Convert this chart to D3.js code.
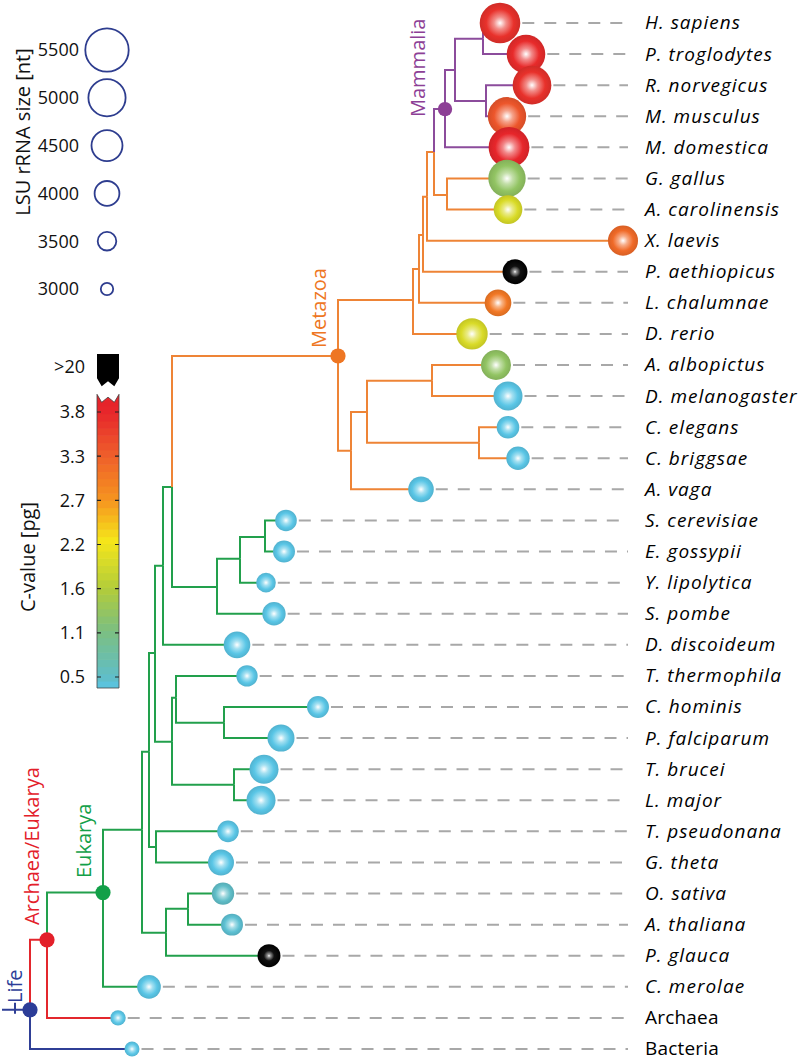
<!DOCTYPE html>
<html><head><meta charset="utf-8">
<script src="https://cdn.jsdelivr.net/npm/d3@7"></script>
<style>body{margin:0;background:#fff}svg{display:block}text{font-family:"Open Sans",sans-serif}</style>
</head><body><svg id="c" width="804" height="1060"></svg>
<script>
// ---------- DATA ----------
const leafNames = ["H. sapiens","P. troglodytes","R. norvegicus","M. musculus","M. domestica","G. gallus","A. carolinensis","X. laevis","P. aethiopicus","L. chalumnae","D. rerio","A. albopictus","D. melanogaster","C. elegans","C. briggsae","A. vaga","S. cerevisiae","E. gossypii","Y. lipolytica","S. pombe","D. discoideum","T. thermophila","C. hominis","P. falciparum","T. brucei","L. major","T. pseudonana","G. theta","O. sativa","A. thaliana","P. glauca","C. merolae","Archaea","Bacteria"];
const leafItalic = [1,1,1,1,1,1,1,1,1,1,1,1,1,1,1,1,1,1,1,1,1,1,1,1,1,1,1,1,1,1,1,1,0,0];
const leafParent = ["Primates","Primates","Rodents","Rodents","Mammalia","Sauropsida","Sauropsida","V5","V4","V3","V1","Arthropoda","Arthropoda","Nematoda","Nematoda","Proto","F3","F3","F2","Fungi","Amorphea","AlvA","Apicomplexa","Apicomplexa","Kineto","Kineto","Crypto","Crypto","Angio","Angio","Plants","Eukarya","Archaea/Eukarya","Life"];
const leafDepth = [470,496,502,477,479,477,478,593,485,468,442,466,478,478,488,391,256,254,236,244,207,217,288,251,234,231,198,191,193,202,239,119,88,102];
const leafSize = [5110,4950,4960,4930,5130,4850,4150,4260,3850,3990,4370,4260,4180,3660,3720,3900,3580,3610,3420,3720,3990,3560,3610,4020,4180,4180,3580,3935,3640,3610,3690,3750,3080,3050];
const leafCValue = [3.7,3.75,3.7,3.35,3.8,1.3,1.95,3.15,80,3.0,1.95,1.3,0.18,0.1,0.1,0.25,0.012,0.01,0.02,0.014,0.034,0.2,0.01,0.023,0.03,0.03,0.03,0.09,0.5,0.45,25,0.017,0.002,0.005];

const nodeIds = ["Life","Archaea/Eukarya","Eukarya","E1","E2","E3","Amorphea","Opisthokonta","Metazoa","V1","V3","V4","V5","Amniota","Mammalia","Euarch","Primates","Rodents","Sauropsida","Proto","P2","Arthropoda","Nematoda","Fungi","F2","F3","SAR-K","AlvA","Apicomplexa","Kineto","Crypto","Plants","Angio"];
const nodeParent = [null,"Life","Archaea/Eukarya","Eukarya","E1","E2","E3","Amorphea","Opisthokonta","Metazoa","V1","V3","V4","V5","Amniota","Mammalia","Euarch","Euarch","Amniota","Metazoa","Proto","P2","P2","Opisthokonta","Fungi","F2","E3","SAR-K","AlvA","SAR-K","E2","E1","Plants"];
const nodeDepth = [0,17,73,112,119,125,133,142,308,383,389,393,397,404,415,425,453,456,417,321,337,402,449,187,210,235,142,146,194,204,126,136,158];
const nodeRow = [31.74,29.49,27.97,25.95,23.44,20.26,17.46,14.92,10.71,8.91,7.91,6.82,5.59,4.15,2.77,1.51,0.51,2.51,5.53,13.76,12.51,11.51,13.5,18.14,17.23,16.53,23.12,21.7,22.51,24.5,26.5,29.26,28.49];

const cladeNames = ["Life","Archaea/Eukarya","Eukarya","Metazoa","Mammalia"];
const cladeLineColors = ["#2f3f96","#e3272d","#22a04c","#ee8436","#8c4c9c"];
const cladeDotColors = ["#2c3d98","#e3202a","#12a048","#ee7623","#8d3f96"];

const sizeLegend = [5500,5000,4500,4000,3500,3000];
const cTickValues = [0.5,1.05,1.6,2.15,2.7,3.25,3.8];
const cTickLabels = ["0.5","1.1","1.6","2.2","2.7","3.3","3.8"];
const cStops = [0.36,0.5,1.1,1.6,2.2,2.7,3.3,3.8,4.02];
const cStopColors = ["#5ac6e6","#60bec8","#7dbf7e","#b2cc3b","#f5e61a","#f6951f","#ee5b2b","#e7262b","#e52229"];
const cOverflowLabel = ">20";

// ---------- SCALES ----------
const svg = d3.select("#c");
const x = d3.scaleLinear().domain([0,600]).range([30,630]);
const y = d3.scaleLinear().domain([0,33]).range([23,1049]);
const r = d3.scaleLinear().domain([3000,5500]).range([7.2,22.7]);
const color = d3.scaleLinear().domain(cStops).range(cStopColors).clamp(true);
const cy = d3.scaleLinear().domain([0.5,3.8]).range([677,412]);
const colorOf = v => v > 20 ? "#000000" : color(v);

// ---------- TREE ----------
const nodes = new Map();
nodeIds.forEach((id,i)=>nodes.set(id,{id,parent:nodeParent[i],x:x(nodeDepth[i]),y:y(nodeRow[i]),leaf:false}));
leafNames.forEach((n,i)=>nodes.set(n,{id:n,parent:leafParent[i],x:x(leafDepth[i]),y:y(i),leaf:true,i}));
function cladeIdx(id){let n=nodes.get(id);while(n){const k=cladeNames.indexOf(n.id);if(k>=0)return k;n=nodes.get(n.parent);}return 0;}

const gLinks = svg.append("g").attr("fill","none").attr("stroke-width",2);
nodes.forEach(n=>{
  if(!n.parent) return;
  const p = nodes.get(n.parent);
  gLinks.append("path").attr("d",`M${p.x},${p.y}V${n.y}H${n.x}`).attr("stroke",cladeLineColors[cladeIdx(n.id)]);
});
// root stem
const root = nodes.get("Life");
svg.append("path").attr("d",`M${root.x-28},${root.y}H${root.x}M${root.x-15},${root.y-7}V${root.y+4}`).attr("stroke",cladeLineColors[0]).attr("stroke-width",2).attr("fill","none");

// dashed leader lines
const gDash = svg.append("g").attr("stroke","#a8a8a8").attr("stroke-width",2).attr("stroke-dasharray","12,10");
leafNames.forEach((n,i)=>{
  const nd = nodes.get(n); const x1 = nd.x + r(leafSize[i]) + 2, x2 = 628;
  if (x1 < x2) gDash.append("line").attr("x1",x1).attr("x2",x2).attr("y1",nd.y).attr("y2",nd.y);
});

// gradients + circles
const defs = svg.append("defs");
leafNames.forEach((n,i)=>{
  const c = colorOf(leafCValue[i]);
  const g = defs.append("radialGradient").attr("id","lg"+i);
  const dark = leafCValue[i] > 20;
  const stops = dark ? [[0,"#ffffff"],[0.12,"#9a9a9a"],[0.45,"#111"],[1,"#000"]]
    : [[0,"#ffffff"],[0.3,d3.interpolateRgb("#ffffff",c)(0.55)],[0.68,c],[1,d3.rgb(c).darker(0.3).formatHex()]];
  stops.forEach(s=>g.append("stop").attr("offset",s[0]).attr("stop-color",s[1]));
});
const gLeaf = svg.append("g");
leafNames.forEach((n,i)=>{
  const nd = nodes.get(n);
  gLeaf.append("circle").attr("cx",nd.x).attr("cy",nd.y).attr("r",r(leafSize[i])).attr("fill",`url(#lg${i})`);
});

// clade dots
cladeNames.forEach((c,k)=>{
  const nd = nodes.get(c);
  svg.append("circle").attr("cx",nd.x).attr("cy",nd.y).attr("r",k===4?7.2:7.6).attr("fill",cladeDotColors[k]);
});

// clade labels (rotated)
const cladeLabelPos = [[22,1003],[39,925],[91,878],[326,348],[425,117]];
cladeNames.forEach((c,k)=>{
  svg.append("text").attr("transform",`translate(${cladeLabelPos[k][0]},${cladeLabelPos[k][1]}) rotate(-90)`)
    .attr("font-size",20).attr("fill",cladeDotColors[k]).text(c);
});

// leaf labels
leafNames.forEach((n,i)=>{
  svg.append("text").attr("x",645).attr("y",y(i)).attr("dy","0.34em").attr("font-size",19)
    .attr("font-style",leafItalic[i]?"italic":"normal").attr("letter-spacing",leafItalic[i]?"1px":"0.2px").attr("fill","#000").text(n);
});

// ---------- SIZE LEGEND ----------
const ly = d3.scalePoint().domain(sizeLegend).range([50,289]);
sizeLegend.forEach(v=>{
  svg.append("circle").attr("cx",107).attr("cy",ly(v)).attr("r",r(v)-1).attr("fill","none").attr("stroke","#2e3d8f").attr("stroke-width",1.8);
  svg.append("text").attr("x",79).attr("y",ly(v)).attr("dy","0.36em").attr("text-anchor","end").attr("font-size",18).attr("fill","#111").text(v);
});
svg.append("text").attr("transform","translate(30,132) rotate(-90)").attr("text-anchor","middle").attr("font-size",20).attr("fill","#111").text("LSU rRNA size [nt]");

// ---------- COLOR BAR ----------
const bx0 = 97, bx1 = 119, bTop = cy(4.02), bBot = cy(0.363);
const zig = (yb, dd) => [[bx0,yb],[bx0+4.7,yb+dd],[(bx0+bx1)/2,yb+dd*0.35],[bx1-4.7,yb+dd],[bx1,yb]];
const clipPts = [...zig(bTop,8),[bx1,bBot],[bx0,bBot]];
defs.append("clipPath").attr("id","cbclip").append("polygon").attr("points",clipPts.map(p=>p.join(",")).join(" "));
const gBar = svg.append("g").attr("clip-path","url(#cbclip)");
const bandVals = d3.range(0.36,4.03,0.09);
bandVals.forEach(v=>{
  gBar.append("rect").attr("x",bx0).attr("width",bx1-bx0).attr("y",cy(v+0.09)).attr("height",cy(v)-cy(v+0.09)+0.6).attr("fill",color(v+0.045));
});
svg.append("polygon").attr("points",clipPts.map(p=>p.join(",")).join(" ")).attr("fill","none").attr("stroke","#444").attr("stroke-width",0.8);
// overflow (black) block
const blackPts = [[bx0,354],[bx1,354],...zig(bTop-16,8).reverse()];
svg.append("polygon").attr("points",blackPts.map(p=>p.join(",")).join(" ")).attr("fill","#000");
svg.append("text").attr("x",85).attr("y",367).attr("dy","0.36em").attr("text-anchor","end").attr("font-size",18).attr("fill","#111").text(cOverflowLabel);
// ticks
cTickValues.forEach((v,i)=>{
  svg.append("path").attr("d",`M${bx0},${cy(v)}h4M${bx1},${cy(v)}h-4`).attr("stroke","#222").attr("stroke-width",1.2);
  svg.append("text").attr("x",85).attr("y",cy(v)).attr("dy","0.36em").attr("text-anchor","end").attr("font-size",18).attr("fill","#111").text(cTickLabels[i]);
});
svg.append("text").attr("transform","translate(35,557) rotate(-90)").attr("text-anchor","middle").attr("font-size",20).attr("fill","#111").text("C-value [pg]");
</script></body></html>
